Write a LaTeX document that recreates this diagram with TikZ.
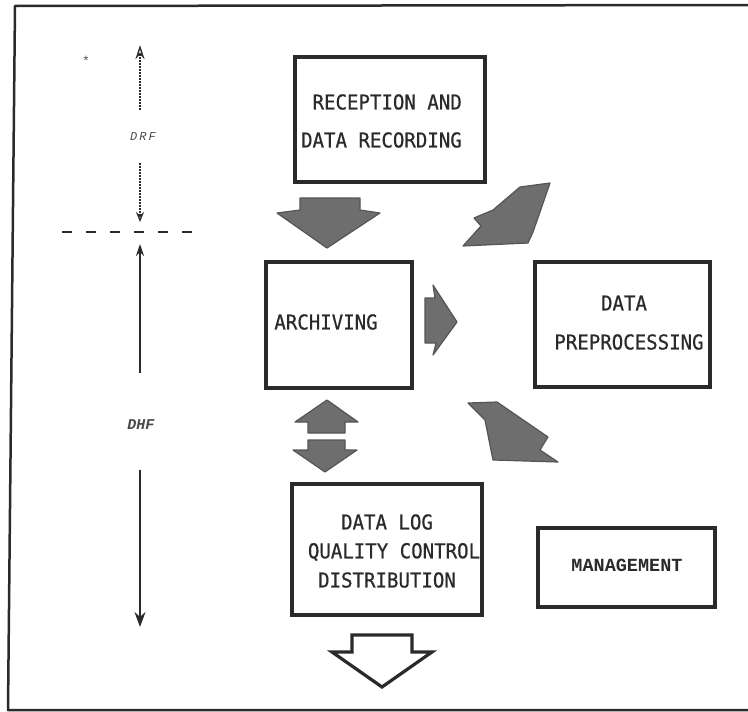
\documentclass[tikz,border=0pt]{standalone}
\usepackage{fontspec}
\usetikzlibrary{arrows.meta}
\newfontfamily\lettering[FakeStretch=0.93,FakeBold=0.6]{DejaVu Sans Mono}
\newfontfamily\typer{Liberation Mono}
\definecolor{ink}{HTML}{2A2A2A}
\definecolor{shade}{HTML}{6E6E6E}
\begin{document}
\begin{tikzpicture}[x=1pt,y=-1pt,
  box/.style={draw=ink,line width=3.2pt,inner sep=0pt,fill=white},
  lbl/.style={font=\lettering\fontsize{20.5}{24}\selectfont,text=ink,inner sep=0pt},
  small/.style={font=\typer\bfseries\fontsize{18.5}{20}\selectfont,text=ink,inner sep=0pt},
  axislbl/.style={text=ink!85,inner sep=0pt},
  blockarrow/.style={fill=shade,draw=ink!80,line width=1.2pt,line join=round},
  hollowarrow/.style={fill=white,draw=ink,line width=3.2pt,line join=miter},
  axis/.style={draw=ink,line width=1.6pt},
  frame/.style={draw=ink,line width=2.5pt,line join=round}]
\useasboundingbox (0,0) rectangle (748,712);

% page frame (open on the right)
\draw[frame] (748,5) -- (15,6) -- (8,710) -- (748,710);

% small mark in the corner
\node[font=\typer\fontsize{13}{13}\selectfont,text=ink!80,inner sep=0pt] (mark) at (86,61) {*};

% boxes
\node[box,minimum width=190pt,minimum height=125pt] (rec) at (390,119.5) {};
\node[box,minimum width=146pt,minimum height=126pt] (arc) at (339,325) {};
\node[box,minimum width=175pt,minimum height=125pt] (pre) at (622.5,324.5) {};
\node[box,minimum width=190pt,minimum height=131pt] (dqd) at (387,549.5) {};
\node[box,minimum width=177pt,minimum height=79pt] (mgt) at (626.5,567.5) {};

% box texts
\node[lbl,anchor=east] (recA) at (462,102) {RECEPTION AND};
\node[lbl,anchor=east] (recB) at (462,140) {DATA RECORDING};
\node[lbl] (arcT) at (326,322) {ARCHIVING};
\node[lbl] (preA) at (624,303) {DATA};
\node[lbl] (preB) at (629,342) {PREPROCESSING};
\node[lbl] (dqdA) at (387,522) {DATA LOG};
\node[lbl] (dqdB) at (394,552) {QUALITY CONTROL};
\node[lbl] (dqdC) at (387,580) {DISTRIBUTION};
\node[small] (mgtT) at (627,565) {MANAGEMENT};

% fat arrows between the boxes
\draw[blockarrow] (300,198) -- (360,198) -- (360,210) -- (380,213) -- (327,248)
  -- (277,213) -- (300,210) -- cycle;
\draw[blockarrow] (550,183) -- (520,187) -- (493,210) -- (474,218) -- (481,226)
  -- (463,246) -- (528,243) -- (533,232) -- (540,212) -- cycle;
\draw[blockarrow] (425,298) -- (435,298) -- (433,285) -- (457,322) -- (433,355)
  -- (436,343) -- (425,343) -- cycle;
\draw[blockarrow] (308,433) -- (345,433) -- (345,422) -- (358,422) -- (327,400)
  -- (295,422) -- (308,422) -- cycle;
\draw[blockarrow] (308,440) -- (345,440) -- (345,450) -- (357,450) -- (325,472)
  -- (293,450) -- (308,450) -- cycle;
\draw[blockarrow] (468,403) -- (497,402) -- (548,437) -- (540,450) -- (558,462)
  -- (493,460) -- (485,420) -- cycle;
\draw[hollowarrow] (352,635) -- (412,635) -- (412,652) -- (432,652) -- (382,687)
  -- (332,652) -- (352,652) -- cycle;

% DRF / DHF time axis
\coordinate (drfTop) at (140,45);
\coordinate (drfUp) at (140,110);
\node[axislbl,font=\typer\itshape\fontsize{12}{12}\selectfont] (drf) at (143,137) {D\,R\,F};
\coordinate (drfLow) at (140,163);
\coordinate (drfBot) at (140,222);
\draw[axis,line width=1.3pt,dash pattern=on 2pt off 1pt,-{Stealth[length=14pt,width=9pt,open]}] (drfUp) -- (drfTop);
\draw[axis,line width=1.3pt,dash pattern=on 2pt off 1pt,-{Stealth[length=10pt,width=8pt,open]}] (drfLow) -- (drfBot);

\coordinate (sepL) at (62,232);
\coordinate (sepR) at (195,232);
\draw[axis,line width=2pt,dash pattern=on 10pt off 14pt] (sepL) -- (sepR);

\coordinate (dhfTop) at (140,244);
\coordinate (dhfUp) at (140,373);
\node[axislbl,font=\typer\bfseries\itshape\fontsize{15}{15}\selectfont] (dhf) at (141,425) {DHF};
\coordinate (dhfLow) at (140,470);
\coordinate (dhfBot) at (140,627);
\draw[axis,-{Stealth[length=12pt,width=8pt]}] (dhfUp) -- (dhfTop);
\draw[axis,-{Stealth[length=15pt,width=11pt]}] (dhfLow) -- (dhfBot);
\end{tikzpicture}
\end{document}
